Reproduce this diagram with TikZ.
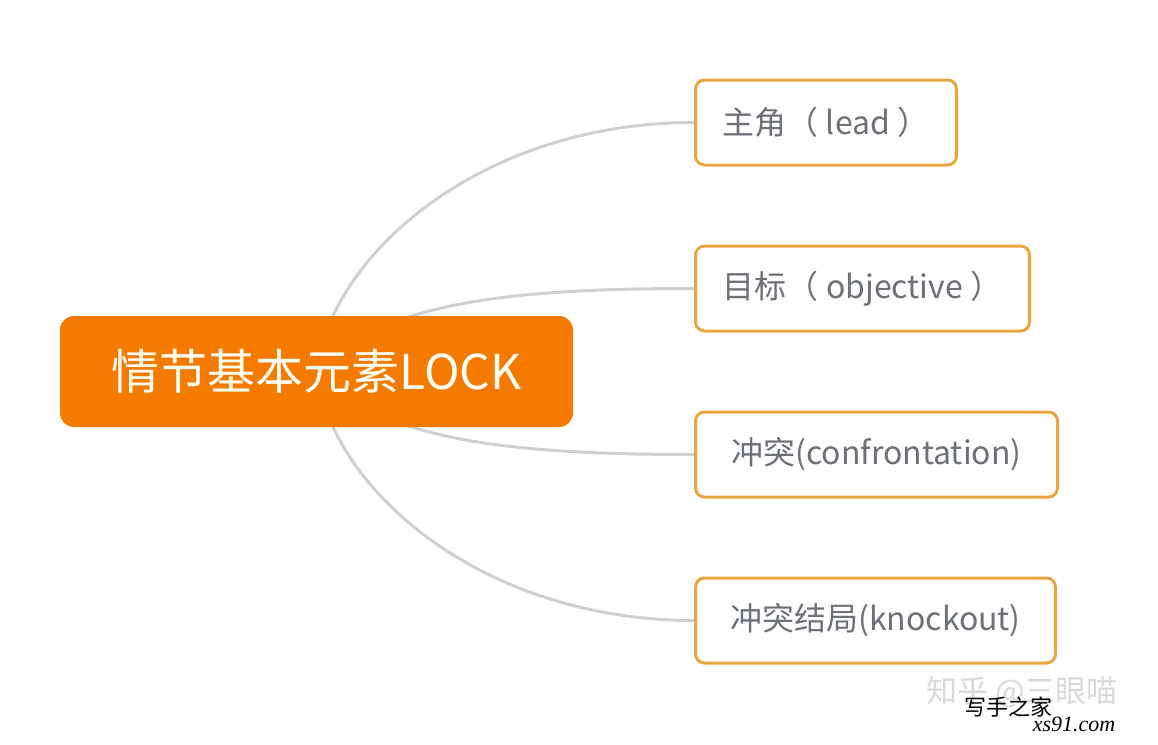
\documentclass[tikz,border=0pt]{standalone}
\usepackage{fontspec}
\setmainfont{Noto Sans CJK SC}
\newfontfamily\urlfont{Liberation Serif}
\usetikzlibrary{backgrounds}
\definecolor{lockorange}{HTML}{F47B00}
\definecolor{leafedge}{HTML}{E9A63F}
\definecolor{leaftext}{HTML}{6C7077}
\definecolor{linkgray}{HTML}{CDD0D2}
\tikzset{
  root/.style={fill=lockorange,rounded corners=14pt,minimum width=513pt,minimum height=111pt,
    text=white!96!yellow,font=\fontsize{48}{52}\selectfont},
  leaf/.style={draw=leafedge,line width=3pt,fill=white,rounded corners=9pt,minimum height=85pt,
    anchor=west,text=leaftext,font=\fontsize{32}{38}\selectfont},
  link/.style={draw=linkgray,line width=3pt}
}
\begin{document}
\begin{tikzpicture}[x=1pt,y=-1pt,line join=round,line cap=round]
\useasboundingbox (0,0) rectangle (1158,744);
\node[root] (lock) at (316.5,371.5) {情节基本元素LOCK};
\node[leaf,minimum width=261pt] (lead) at (694,122.5) {主角（ lead ）};
\node[leaf,minimum width=334pt] (objective) at (694,288.5) {目标（ objective ）};
\node[leaf,minimum width=362pt] (confront) at (694,454.5) {冲突(confrontation)};
\node[leaf,minimum width=360pt] (knockout) at (694,620.5) {冲突结局(knockout)};
\begin{scope}[on background layer]
\fill[white] (0,0) rectangle (1158,744);
\draw[link] (lock.center) .. controls +(14,-116) and +(-214,0) .. (lead.west);
\draw[link] (lock.center) .. controls +(64,-71) and +(-174,0) .. (objective.west);
\draw[link] (lock.center) .. controls +(64,71) and +(-174,0) .. (confront.west);
\draw[link] (lock.center) .. controls +(14,116) and +(-214,0) .. (knockout.west);
\end{scope}
% watermarks
\node[text=black!15,font=\fontsize{31}{34}\selectfont] (zhihu) at (1022,692) {知乎 @三眼喵};
\node[font=\fontsize{22}{24}\selectfont] (xsname) at (1008,707) {写手之家};
\node[font=\fontsize{22}{24}\urlfont\itshape] (xsurl) at (1074,724) {xs91.com};
\end{tikzpicture}
\end{document}
